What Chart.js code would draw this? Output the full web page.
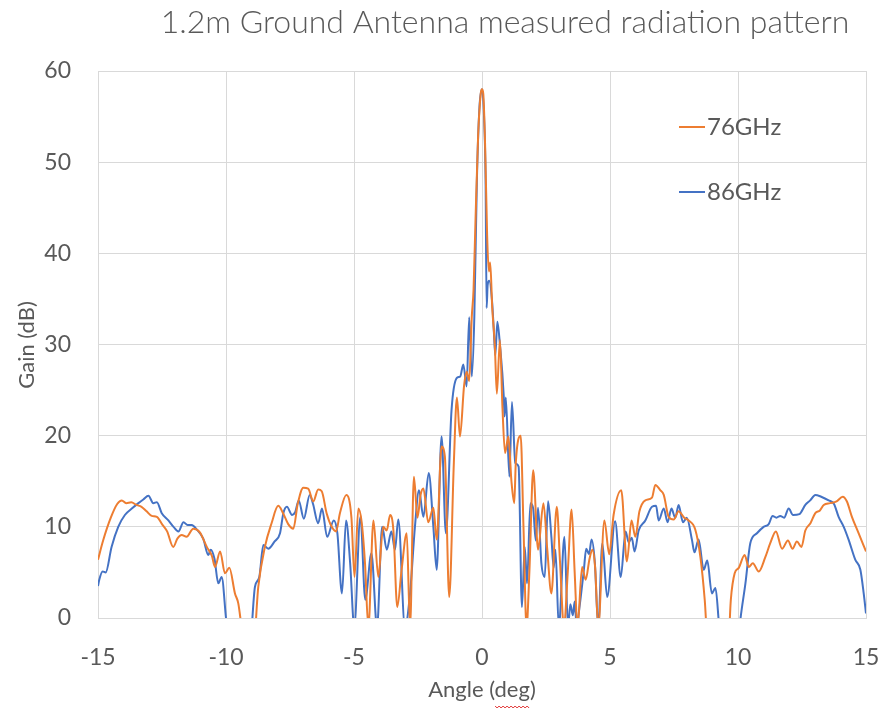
<!DOCTYPE html>
<html>
<head>
<meta charset="utf-8">
<title>1.2m Ground Antenna measured radiation pattern</title>
<script src="https://cdn.jsdelivr.net/npm/chart.js@4.4.1/dist/chart.umd.min.js"></script>
<style>
  html, body { margin: 0; padding: 0; background: #fff; }
  #wrap { width: 886px; height: 717px; position: relative; }
</style>
</head>
<body>
<div id="wrap"><canvas id="pattern"></canvas></div>
<script>
// measured gain (dB) against angle (deg); values below 0 dB fall off the axis
const angle76 = [-15, -14.8, -14.5, -14.25, -14.07, -13.9, -13.7, -13.5, -13.3, -13.1, -12.9, -12.7, -12.5, -12.3, -12.06,
  -11.9, -11.73, -11.54, -11.28, -11.02, -10.75, -10.55, -10.43, -10.23, -10.04, -9.87, -9.65, -9.52, -9.39, -9.2,
  -8.95, -8.74, -8.48, -8.22, -7.96, -7.77, -7.57, -7.37, -7.2, -6.98, -6.79, -6.59, -6.4, -6.26, -6.07, -5.87, -5.7,
  -5.55, -5.3, -5.1, -4.98, -4.83, -4.7, -4.57, -4.44, -4.24, -4.05, -3.86, -3.72, -3.59, -3.46, -3.31, -3.14, -2.94,
  -2.81, -2.66, -2.52, -2.4, -2.29, -2.1, -1.9, -1.77, -1.58, -1.45, -1.28, -1.1, -0.98, -0.86, -0.7, -0.6, -0.5, -0.4,
  -0.33, -0.25, -0.15, -0.05, 0, 0.05, 0.12, 0.2, 0.27, 0.32, 0.4, 0.5, 0.58, 0.7, 0.8, 0.9, 1.03, 1.15, 1.26, 1.32,
  1.51, 1.62, 1.74, 1.85, 2.0, 2.19, 2.4, 2.55, 2.71, 2.92, 3.05, 3.2, 3.35, 3.5, 3.62, 3.73, 3.91, 4.05, 4.2, 4.31,
  4.42, 4.54, 4.78, 4.97, 5.14, 5.44, 5.66, 5.84, 5.99, 6.15, 6.38, 6.64, 6.77, 6.97, 7.1, 7.29, 7.49, 7.68, 7.9, 8.07,
  8.33, 8.53, 8.7, 8.85, 9.6, 9.72, 9.87, 10.03, 10.26, 10.42, 10.58, 10.81, 11.07, 11.26, 11.48, 11.72, 11.95, 12.13,
  12.3, 12.48, 12.63, 12.83, 13.02, 13.2, 13.35, 13.6, 13.85, 14.09, 14.25, 14.45, 14.71, 15];
const gain76 = [6.4, 8.5, 11, 12.5, 12.9, 12.6, 12.7, 12.4, 12.2, 11.7, 11.2, 11.1, 10.3, 9.5, 7.8,
  8.7, 9.1, 8.9, 9.8, 9.4, 7.8, 6.8, 5.6, 7.3, 4.9, 5.5, 2.7, 1.6, -1, -4,
  -4, 3.4, 7.8, 10.4, 12.3, 11.5, 10.3, 9.8, 12.5, 14.3, 14.2, 12.8, 14.1, 13.9, 11.5, 10.0, 9.5,
  11.5, 13.5, 11, 4.5, 12.0, 10.5, 6.0, -1, 10.7, 4.5, 10.0, 9.6, 11.3, 9.6, 1.2, 5.3, 9.3,
  -1, 15.5, 11.0, 13.5, 14.2, 10.5, 12.1, 8.6, 18.8, 17.7, 2.3, 17, 24.2, 19.9, 25.5, 27, 26, 33,
  36, 44, 53, 57.5, 58, 57.5, 52, 42, 38, 39, 34, 30, 24.6, 30.5, 23, 18.1, 19.9, 15, 12.6, 17,
  20, 10, -1, 5, 16.2, 7.5, 12.6, 7.5, 2.7, 12.2, 6, -1, 5, 11.9, 5, -1, 5.6, 4.2, 6.5, 7.5,
  5.5, -1, 10.7, 7, 11.3, 14.0, 6.2, 10.7, 8.9, 11.7, 12.9, 13.2, 14.6, 14, 13.5, 11.1, 10.8, 11.7, 11, 10.7,
  9.7, 6.7, 2, -4, -4, 2, 4.9, 5.5, 6.9, 5.6, 6, 5.1, 6.7, 8.2, 9.5, 7.6, 8.5, 7.6,
  8.4, 7.8, 9.6, 10.4, 11.5, 11.8, 12.4, 12.6, 12.8, 13.3, 12.8, 11.1, 9.3, 7.3];

const angle86 = [-15, -14.95, -14.82, -14.7, -14.47, -14.21, -13.95, -13.68, -13.42, -13.23, -13.03, -12.84, -12.7, -12.51,
  -12.25, -12.05, -11.86, -11.66, -11.5, -11.34, -11.14, -10.89, -10.69, -10.6, -10.45, -10.3, -10.17, -10.0, -9.85,
  -9.1, -8.87, -8.7, -8.54, -8.35, -8.1, -7.89, -7.76, -7.62, -7.42, -7.3, -7.16, -6.96, -6.73, -6.6, -6.4, -6.25,
  -6.05, -5.79, -5.65, -5.47, -5.31, -5.15, -4.99, -4.75, -4.56, -4.32, -4.1, -3.9, -3.72, -3.54, -3.4, -3.27, -3.01,
  -2.81, -2.62, -2.46, -2.29, -2.08, -1.9, -1.77, -1.58, -1.41, -1.19, -0.99, -0.85, -0.73, -0.6, -0.5, -0.4, -0.3,
  -0.2, -0.1, 0, 0.08, 0.14, 0.18, 0.22, 0.28, 0.4, 0.46, 0.52, 0.6, 0.7, 0.85, 0.88, 0.93, 1.07, 1.17, 1.3, 1.43,
  1.56, 1.67, 1.76, 1.89, 2.0, 2.1, 2.19, 2.32, 2.45, 2.58, 2.71, 2.8, 2.87, 3.0, 3.22, 3.36, 3.45, 3.55, 3.62, 3.7,
  3.8, 3.98, 4.07, 4.18, 4.28, 4.41, 4.54, 4.7, 4.89, 5.2, 5.42, 5.61, 5.73, 5.85, 5.96, 6.12, 6.38, 6.64, 6.8, 6.9,
  7.1, 7.25, 7.4, 7.55, 7.68, 7.85, 8.0, 8.2, 8.3, 8.46, 8.66, 8.8, 8.98, 9.12, 9.27, 9.45, 9.95, 10.1, 10.29, 10.48,
  10.74, 11.0, 11.2, 11.35, 11.5, 11.65, 11.8, 11.98, 12.15, 12.4, 12.63, 12.82, 13.02, 13.25, 13.54, 13.75, 13.93,
  14.13, 14.32, 14.58, 14.78, 14.91, 15];
const gain86 = [3.5, 4.2, 5.1, 5.0, 7.8, 10, 11.3, 12.0, 12.6, 13.0, 13.4, 12.6, 12.7, 11.5,
  10.7, 10, 9.5, 10.5, 10.2, 10.2, 9.7, 8.7, 6.9, 7.5, 6.5, 3.8, 4.5, 0, -4,
  -4, 3.4, 4.5, 8.0, 7.6, 8.4, 9.3, 11.5, 12.2, 11.3, 11.6, 12.9, 10.9, 13.5, 12.5, 10.4, 12.0,
  8.9, 10.7, 9.3, 2.7, 10.7, 6, -1, 11.1, 2.0, 7.1, -1, 10.0, 7.5, 9.5, 7.5, 10.8, -1,
  2.7, 10, 14.0, 11.1, 15.9, 10.0, 5.3, 19.9, 9.3, 22.8, 26.3, 26.5, 27.8, 25.4, 33, 26.5, 33,
  48, 56, 58, 55, 48, 34, 36.5, 37, 34.5, 31.6, 28.8, 32.5, 30, 24.3, 22.1, 24.2, 15.5, 23.7, 17, 16.6,
  1.2, 7.8, 3.8, 12.6, 12.0, 8.5, 12.1, 6.0, 4.5, 12.8, 8.9, 5.5, 7.5, -1, 8.9, -1, 1.5, 0.3, 1.8, -1,
  1, 5.3, 7.6, 7.0, 8.6, 6.0, -1, 8.2, 2.3, 10.6, 4.5, 9.5, 8.3, 8.8, 7.3, 9.6, 10.7, 12.2, 12.3, 10.7,
  12, 10.5, 12, 11, 12.4, 10.5, 11, 8.6, 7.2, 8.6, 5.3, 6.3, 2.7, 3.3, -1, -4, -4, 0, 3.8, 8.2,
  9.3, 10, 10.3, 11.2, 11, 11.2, 11, 12.0, 11.3, 11.4, 12.4, 12.9, 13.5, 13.3, 12.9, 12.5, 11.1,
  10.0, 8.6, 6.4, 5.3, 2.7, 0.5];

const xTicks = [-15, -10, -5, 0, 5, 10, 15];
const yTicks = [0, 10, 20, 30, 40, 50, 60];

const textColor = '#595959';
const gridColor = '#d9d9d9';
const fontFace = 'Lato, "Open Sans", sans-serif';

function toPoints(xs, ys) {
  return xs.map((x, i) => ({ x: x, y: ys[i] }));
}

// title, axis titles and in-plot legend drawn on top of the chart area
const decorations = {
  id: 'decorations',
  afterDraw(chart) {
    const ctx = chart.ctx;
    ctx.save();
    ctx.fillStyle = textColor;
    ctx.textBaseline = 'middle';

    ctx.font = '300 32px ' + fontFace;
    ctx.textAlign = 'center';
    ctx.fillText('1.2m Ground Antenna measured radiation pattern', 505, 23);

    ctx.font = '22px ' + fontFace;
    ctx.fillText('Angle (deg)', 482, 690);
    // spell-check underline below "deg"
    const full = ctx.measureText('Angle (deg)').width;
    const head = ctx.measureText('Angle (').width;
    const word = ctx.measureText('deg').width;
    const sx = 482 - full / 2 + head;
    ctx.strokeStyle = '#e03030';
    ctx.lineWidth = 1;
    ctx.beginPath();
    for (let i = 0; i <= word; i += 2) {
      const yy = 706 + ((i / 2) % 2 === 0 ? 0 : 2);
      if (i === 0) ctx.moveTo(sx + i, yy); else ctx.lineTo(sx + i, yy);
    }
    ctx.stroke();

    ctx.save();
    ctx.translate(27, 345);
    ctx.rotate(-Math.PI / 2);
    ctx.fillText('Gain (dB)', 0, 0);
    ctx.restore();

    ctx.textAlign = 'left';
    ctx.font = '24px ' + fontFace;
    const rows = [127, 192];
    chart.data.datasets.forEach((ds, i) => {
      ctx.strokeStyle = ds.borderColor;
      ctx.lineWidth = 2;
      ctx.beginPath();
      ctx.moveTo(679, rows[i]);
      ctx.lineTo(705, rows[i]);
      ctx.stroke();
      ctx.fillStyle = textColor;
      ctx.fillText(ds.label, 707, rows[i]);
    });
    ctx.restore();
  }
};

new Chart(document.getElementById('pattern'), {
  type: 'line',
  data: {
    datasets: [
      {
        label: '76GHz',
        data: toPoints(angle76, gain76),
        borderColor: '#ED7D31',
        borderWidth: 2,
        pointRadius: 0,
        cubicInterpolationMode: 'monotone'
      },
      {
        label: '86GHz',
        data: toPoints(angle86, gain86),
        borderColor: '#4472C4',
        borderWidth: 2,
        pointRadius: 0,
        cubicInterpolationMode: 'monotone'
      }
    ]
  },
  options: {
    responsive: true,
    maintainAspectRatio: false,
    animation: false,
    layout: { padding: { top: 71, right: 20, left: 0, bottom: 0 } },
    plugins: {
      legend: { display: false },
      tooltip: { enabled: false }
    },
    scales: {
      x: {
        type: 'linear',
        min: xTicks[0],
        max: xTicks[xTicks.length - 1],
        afterBuildTicks(scale) { scale.ticks = xTicks.map(v => ({ value: v })); },
        afterFit(scale) {
          scale.height = 99;
          scale.paddingLeft = 0;
          scale.paddingRight = 0;
        },
        grid: { color: gridColor, drawTicks: false },
        border: { color: gridColor },
        ticks: { color: textColor, padding: 26, font: { family: fontFace, size: 23 } }
      },
      y: {
        min: yTicks[0],
        max: yTicks[yTicks.length - 1],
        afterBuildTicks(scale) { scale.ticks = yTicks.map(v => ({ value: v })); },
        afterFit(scale) {
          scale.width = 98;
          scale.paddingTop = 0;
          scale.paddingBottom = 0;
        },
        grid: { color: gridColor, drawTicks: false },
        border: { color: gridColor },
        ticks: { color: textColor, padding: 27, font: { family: fontFace, size: 23 } }
      }
    }
  },
  plugins: [decorations]
});
</script>
</body>
</html>
